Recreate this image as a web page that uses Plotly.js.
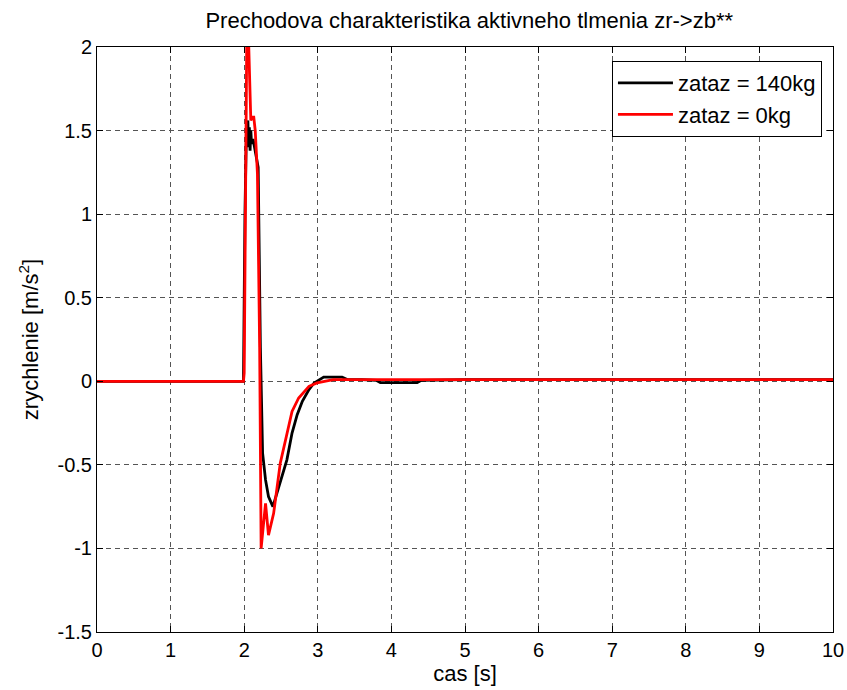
<!DOCTYPE html>
<html>
<head>
<meta charset="utf-8">
<script src="https://cdn.plot.ly/plotly-3.0.1.min.js"></script>
<style>html,body{margin:0;padding:0;background:#fff;}#chart{width:847px;height:690px;}</style>
</head>
<body>
<div id="chart"></div>
<script>
// zataz = 140kg
var t140 = [0, 1.99, 2.01, 2.03, 2.05, 2.06, 2.07, 2.08, 2.09, 2.10, 2.12, 2.15, 2.19, 2.22, 2.24, 2.25, 2.29, 2.33, 2.39, 2.47, 2.54, 2.58, 2.65, 2.72, 2.79, 2.88, 2.95, 3.02, 3.08, 3.2, 3.33, 3.40, 3.6, 3.8, 3.85, 4.0, 4.35, 4.4, 5, 10];
var a140 = [0, 0, 1.0, 1.5, 1.56, 1.40, 1.52, 1.38, 1.5, 1.42, 1.45, 1.38, 1.28, 0.2, -0.37, -0.43, -0.59, -0.69, -0.75, -0.63, -0.53, -0.47, -0.31, -0.20, -0.12, -0.05, -0.01, 0.01, 0.025, 0.025, 0.025, 0.01, 0.01, 0.005, -0.008, -0.008, -0.008, 0.005, 0.01, 0.01];
// zataz = 0kg
var t0 = [0, 1.99, 2.0, 2.02, 2.04, 2.09, 2.11, 2.13, 2.15, 2.18, 2.21, 2.23, 2.29, 2.33, 2.40, 2.49, 2.58, 2.65, 2.74, 2.88, 2.99, 3.21, 3.5, 4, 10];
var a0 = [0, 0, 0.05, 1.0, 2.35, 1.56, 1.58, 1.58, 1.50, 1.24, 0.2, -1.0, -0.73, -0.92, -0.79, -0.49, -0.31, -0.18, -0.10, -0.03, -0.01, 0.01, 0.01, 0.01, 0.01];

var xTicks = [0,1,2,3,4,5,6,7,8,9,10];
var yTicks = [-1.5,-1,-0.5,0,0.5,1,1.5,2];
var yTickText = ['-1.5','-1','-0.5','0','0.5','1','1.5','2'];

var font = 'Arial, "Liberation Sans", Helvetica, sans-serif';

var traces = [
  {x: t140, y: a140, type: 'scatter', mode: 'lines', name: 'zataz = 140kg', line: {color: '#000000', width: 2.8}},
  {x: t0, y: a0, type: 'scatter', mode: 'lines', name: 'zataz = 0kg', line: {color: '#ff0000', width: 2.8}}
];

var axisCommon = {
  showline: true, mirror: 'ticks', linecolor: '#000', linewidth: 1,
  ticks: 'inside', ticklen: 6, tickcolor: '#000',
  showgrid: true, gridcolor: '#555', gridwidth: 1, griddash: '5px,4px',
  zeroline: false,
  tickfont: {family: font, size: 20, color: '#000'}
};

var layout = {
  width: 847, height: 690,
  margin: {l: 97, r: 14, t: 47, b: 58},
  paper_bgcolor: '#fff', plot_bgcolor: '#fff',
  title: {text: 'Prechodova charakteristika aktivneho tlmenia zr->zb**', font: {family: font, size: 22, color: '#000'}, x: 0.554, xanchor: 'center', y: 0.971, yanchor: 'middle'},
  xaxis: Object.assign({}, axisCommon, {
    range: [0, 10], tickvals: xTicks, ticktext: xTicks.map(String),
    title: {text: 'cas [s]', font: {family: font, size: 22, color: '#000'}, standoff: 2}
  }),
  yaxis: Object.assign({}, axisCommon, {
    range: [-1.5, 2], tickvals: yTicks, ticktext: yTickText,
    title: {text: 'zrychlenie [m/s<sup>2</sup>]', font: {family: font, size: 22, color: '#000'}, standoff: 12}
  }),
  showlegend: true,
  legend: {
    x: 0.985, y: 0.976, xanchor: 'right', yanchor: 'top',
    bgcolor: '#fff', bordercolor: '#000', borderwidth: 1,
    font: {family: font, size: 22, color: '#000'},
    itemwidth: 55,
    tracegroupgap: 0
  }
};

Plotly.newPlot('chart', traces, layout, {displayModeBar: false, staticPlot: true});
</script>
</body>
</html>
